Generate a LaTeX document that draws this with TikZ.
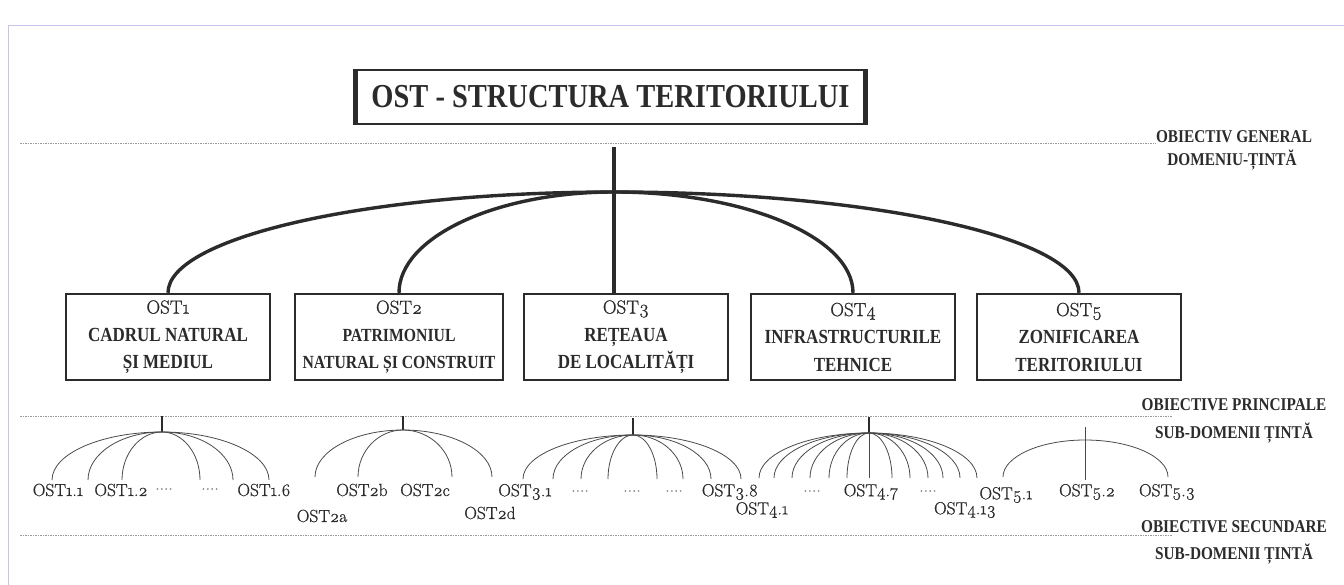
\documentclass[tikz,border=0pt]{standalone}
\usepackage{fontspec}
\setmainfont{Latin Modern Roman}[Numbers=OldStyle]
\newfontfamily\leaffont[Numbers=OldStyle, FakeBold=0.8]{Latin Modern Roman}
\newfontfamily\capfont[FakeStretch=0.85]{Liberation Serif}
\usepackage{tikz}
\usetikzlibrary{positioning,calc}
\definecolor{ink}{HTML}{2B2B2B}
\definecolor{thin}{HTML}{4A4A4A}
\definecolor{rulegray}{HTML}{9A9A9A}
\definecolor{lavender}{HTML}{C4C4EC}
\newcommand{\ostnum}[1]{{\leaffont\mdseries\fontsize{19}{27.5}\selectfont OST#1}}
\newcommand{\fourdots}{\raisebox{2pt}{\color{gray}....}}

\begin{document}
\begin{tikzpicture}[x=1pt, y=-1pt,
  ostbox/.style={draw=ink, line width=2.4pt, fill=white, minimum width=204pt, minimum height=86pt,
    inner sep=0pt, align=center, text=ink, font=\capfont\bfseries\fontsize{20}{27.5}\selectfont},
  leaf/.style={inner sep=0pt, text=ink, font=\leaffont\fontsize{17.5}{19}\selectfont},
  lvl/.style={inner sep=0pt, text=ink, font=\capfont\bfseries\fontsize{18}{20}\selectfont},
  dots/.style={draw=rulegray, line width=0.8pt, dash pattern=on 1.5pt off 1pt},
  mainln/.style={draw=ink, line width=3.4pt},
  subln/.style={draw=thin, line width=0.8pt}]
  \useasboundingbox (0,0) rectangle (1344,585);
  \draw[lavender, line width=1pt] (8,585) -- (8,26) -- (1344,26);

  % levels
  \draw[dots] (20,143) -- (1156,143);
  \draw[dots] (20,416) -- (1172,416);
  \draw[dots] (20,535) -- (1172,535);
  \node[lvl] (lgen) at (1234,137) {OBIECTIV GENERAL};
  \node[lvl] (ldom) at (1232,160) {DOMENIU-ȚINTĂ};
  \node[lvl] (lprin) at (1234,405) {OBIECTIVE PRINCIPALE};
  \node[lvl] (lsub1) at (1234,433) {SUB-DOMENII ȚINTĂ};
  \node[lvl] (lsec) at (1234,527) {OBIECTIVE SECUNDARE};
  \node[lvl] (lsub2) at (1234,554) {SUB-DOMENII ȚINTĂ};

  % title
  \node[draw=ink, line width=2pt, minimum width=511pt, minimum height=54pt, inner sep=0pt,
    text=ink, font=\capfont\bfseries\fontsize{33.5}{36}\selectfont] (title) at (610.5,97)
    {OST - STRUCTURA TERITORIULUI};
  \draw[ink, line width=5pt] ([xshift=1.5pt]title.south west) -- ([xshift=1.5pt]title.north west);
  \draw[ink, line width=5pt] ([xshift=-1.5pt]title.south east) -- ([xshift=-1.5pt]title.north east);

  % main domains
  \node[ostbox] (ost1) at (168,337) {\ostnum{1}\\CADRUL NATURAL\\ȘI MEDIUL};
  \node[ostbox, minimum width=208pt, font=\capfont\bfseries\fontsize{18.5}{27.5}\selectfont] (ost2) at (399,337)
    {\ostnum{2}\\PATRIMONIUL\\NATURAL ȘI CONSTRUIT};
  \node[ostbox] (ost3) at (626,337) {\ostnum{3}\\REȚEAUA\\DE LOCALITĂȚI};
  \node[ostbox] (ost4) at (853,337) {\ostnum{4}\\INFRASTRUCTURILE\\TEHNICE};
  \node[ostbox] (ost5) at (1079,337) {\ostnum{5}\\ZONIFICAREA\\TERITORIULUI};

  \coordinate (top) at (614,147);
  \coordinate (foot) at (614,192);
  \draw[mainln] (top) -- (foot);
  \foreach \b in {ost1,ost2,ost4,ost5}
    \draw[mainln] (foot) .. controls ($(foot)!.55!(foot-|\b.north)$) and ($(\b.north)!.55!(foot-|\b.north)$) .. (\b.north);
  \draw[mainln] (foot) -- (foot|-ost3.north);

  % sub-domains
  \foreach \g/\fx/\ty/\fy/\ey/\w/\ends in {
      1/162/416/432/480/2.4/{52,88,122,200,233,269},
      2/403/416/430/477/1.2/{315,358,452,492},
      3/633/418/435/479/2.4/{523,553,581,608,657,683,711,741},
      4/869/417/433/478/2.4/{759,774,792,810,829,847,869,892,910,928,943,960,977}} {
    \coordinate (t\g) at (\fx,\ty);
    \coordinate (f\g) at (\fx,\fy);
    \draw[draw=ink, line width=\w pt] (t\g) -- (f\g);
    \foreach \x [count=\k] in \ends {
      \coordinate (e\g-\k) at (\x,\ey);
      \draw[subln] (f\g) .. controls ($(f\g)!.55!(f\g-|e\g-\k)$) and ($(e\g-\k)!.55!(f\g-|e\g-\k)$) .. (e\g-\k);
    }
  }
  \coordinate (t5) at (1085,427);
  \coordinate (f5) at (1085,440);
  \coordinate (e5-2) at (1085,480);
  \draw[subln] (t5) -- (e5-2);
  \foreach \x [count=\k] in {1003,1168} {
    \coordinate (e5-\k) at (\x,477);
    \draw[subln] (f5) .. controls ($(f5)!.55!(f5-|e5-\k)$) and ($(e5-\k)!.55!(f5-|e5-\k)$) .. (e5-\k);
  }

  % leaves
  \node[leaf] (l11) at (58,490) {OST1.1};
  \node[leaf] (l12) at (121,490) {OST1.2};
  \node[leaf] (d11) at (164,490) {\fourdots};
  \node[leaf] (d12) at (210,490) {\fourdots};
  \node[leaf] (l16) at (264,490) {OST1.6};
  \node[leaf] (l2a) at (322,516) {OST2a};
  \node[leaf] (l2b) at (362,490) {OST2b};
  \node[leaf] (l2c) at (425,490) {OST2c};
  \node[leaf] (l2d) at (490,513) {OST2d};
  \node[leaf] (l31) at (525,492) {OST3.1};
  \node[leaf] (d31) at (580,492) {\fourdots};
  \node[leaf] (d32) at (632,492) {\fourdots};
  \node[leaf] (d33) at (674,492) {\fourdots};
  \node[leaf] (l38) at (730,492) {OST3.8};
  \node[leaf] (l41) at (762,510) {OST4.1};
  \node[leaf] (d41) at (812,492) {\fourdots};
  \node[leaf] (l47) at (871,492) {OST4.7};
  \node[leaf] (d42) at (928,492) {\fourdots};
  \node[leaf] (l413) at (965,510) {OST4.13};
  \node[leaf] (l51) at (1006,495) {OST5.1};
  \node[leaf] (l52) at (1087,492) {OST5.2};
  \node[leaf] (l53) at (1167,492) {OST5.3};
\end{tikzpicture}
\end{document}
